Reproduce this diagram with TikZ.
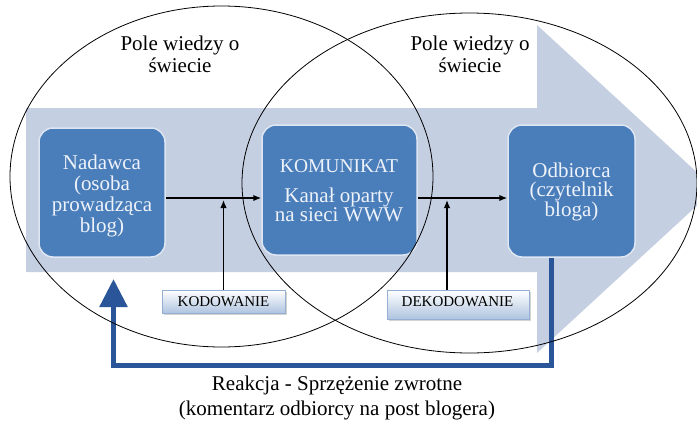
\documentclass[tikz,border=0pt]{standalone}
\usepackage{fontspec}
\setmainfont{LiberationSerif}[Extension=.ttf, UprightFont=*-Regular, BoldFont=*-Bold, ItalicFont=*-Italic]
\usetikzlibrary{arrows.meta,shadows}
\definecolor{bodyc}{HTML}{C5CFE2}
\definecolor{boxc}{HTML}{4A7EBB}
\definecolor{boxedge}{HTML}{DDE6F2}
\definecolor{fbc}{HTML}{2A5699}
\definecolor{smallbot}{HTML}{AFC4E0}
\definecolor{smalledge}{HTML}{95AED3}
\definecolor{boxtxt}{HTML}{EEF2F9}
\tikzset{
  bluebox/.style={draw=boxedge, line width=1.5pt, fill=boxc, rounded corners=14pt, inner sep=0pt},
  boxtext/.style={text=boxtxt, align=center, inner sep=0pt},
  smallbox/.style={draw=smalledge, line width=0.8pt, top color=white, bottom color=smallbot,
    drop shadow={shadow xshift=2pt, shadow yshift=-2pt, opacity=0.35}, inner sep=0pt},
  smalltext/.style={font=\fontsize{15}{15}\selectfont, inner sep=0pt},
  thinarrow/.style={draw=black, line width=1.4pt, -{Latex[length=8pt,width=6.5pt]}},
  fieldline/.style={draw=black, line width=0.8pt},
  fieldtext/.style={align=center, inner sep=0pt, font=\fontsize{21}{22}\selectfont},
  fbline/.style={draw=fbc, line width=5.5pt, line join=miter, -{Triangle[width=27pt,length=28pt]}}
}
\begin{document}
\begin{tikzpicture}[x=1pt,y=-1pt]
\useasboundingbox (0,0) rectangle (697,421);
% big background arrow
\begin{scope}
\clip (0,0) rectangle (697,421);
\fill[bodyc] (26,108) -- (537,108) -- (537,25) -- (715,189) -- (537,353) -- (537,272) -- (26,272) -- cycle;
\end{scope}
% boxes
\node[bluebox, minimum width=126pt, minimum height=129pt] (nad) at (102,192.5) {};
\node[bluebox, minimum width=155pt, minimum height=130pt] (kom) at (339.5,190) {};
\node[bluebox, minimum width=127pt, minimum height=132pt] (odb) at (571.5,191) {};
\node[boxtext, font=\fontsize{21}{21}\selectfont] (nadt) at (102,195.6) {Nadawca\\(osoba\\prowadząca\\blog)};
\node[boxtext, font=\fontsize{21}{19}\selectfont] (komt) at (339,190.5) {{\fontsize{19.5}{19.5}\selectfont KOMUNIKAT}\\[11pt]Kanał oparty\\na sieci WWW};
\node[boxtext, font=\fontsize{21}{19.5}\selectfont] (odbt) at (571.5,191.7) {Odbiorca\\(czytelnik\\bloga)};
% main flow arrows
\coordinate (mainline) at (0,198);
\draw[thinarrow] (nad.east |- mainline) -- (kom.west |- mainline);
\draw[thinarrow] (kom.east |- mainline) -- (odb.west |- mainline);
% coding boxes
\node[smallbox, minimum width=123pt, minimum height=23pt] (kod) at (223.5,301.5) {};
\node[smallbox, minimum width=142pt, minimum height=29pt] (dek) at (458,304.5) {};
\node[smalltext] (kodt) at (223.5,302) {KODOWANIE};
\node[smalltext] (dekt) at (457.5,302) {DEKODOWANIE};
\coordinate (kin) at (223.5,200);
\coordinate (din) at (447,200);
\draw[thinarrow] (kod.north) -- (kin);
\draw[thinarrow] (dek.north -| din) -- (din);
% feedback
\coordinate (fbr) at (551.5,365.5);
\coordinate (fbl) at (113.5,365.5);
\coordinate (fbt) at (113.5,279);
\draw[fbline] (odb.south -| fbr) -- (fbr) -- (fbl) -- (fbt);
% fields of knowledge
\draw[fieldline] (221.5,176.5) ellipse [x radius=211.5pt, y radius=170.5pt];
\draw[fieldline] (469.5,183) ellipse [x radius=227.5pt, y radius=170pt];
\node[fieldtext] (pl) at (180,54) {Pole wiedzy o\\świecie};
\node[fieldtext] (pr) at (470,54) {Pole wiedzy o\\świecie};
\node[fieldtext, font=\fontsize{21}{25}\selectfont] (fbtext) at (337,397.6) {Reakcja - Sprzężenie zwrotne\\(komentarz odbiorcy na post blogera)};
\end{tikzpicture}
\end{document}
